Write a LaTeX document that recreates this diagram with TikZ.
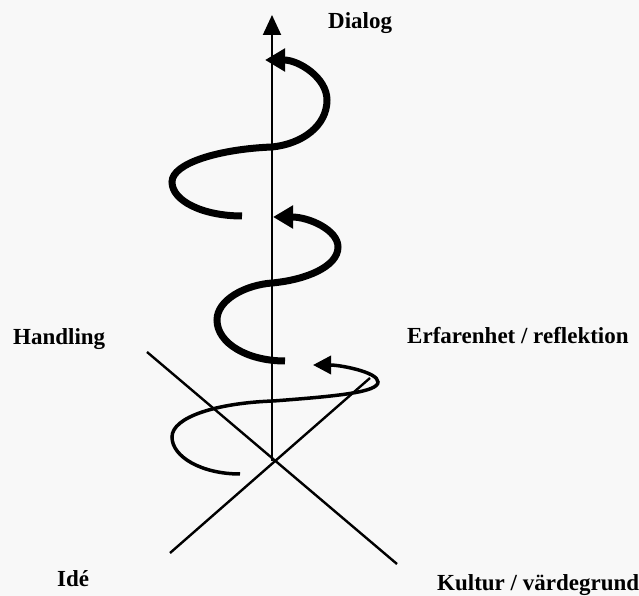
\documentclass[tikz,border=0pt]{standalone}
\usepackage{fontspec}
\setmainfont{Liberation Serif}
\usetikzlibrary{arrows.meta}
\definecolor{bgc}{RGB}{248,248,248}
\begin{document}
\begin{tikzpicture}[x=1pt,y=1pt,
  axisline/.style={line width=2pt, -{Triangle[length=20pt,width=18pt]}},
  diag/.style={line width=2.4pt},
  thickspiral/.style={line width=7pt, -{Triangle[length=20pt,width=22pt]}},
  thinspiral/.style={line width=3.5pt, -{Triangle[length=18pt,width=18pt]}},
  lbl/.style={anchor=base west, inner sep=0pt, font=\fontsize{23}{26}\selectfont\bfseries}]
\fill[bgc] (0,0) rectangle (639,596);
\useasboundingbox (0,0) rectangle (639,596);
% axes
\coordinate (C) at (272,135);
\coordinate (axtop) at (272,581);
\coordinate (d1a) at (147,244);
\coordinate (d1b) at (397,32);
\coordinate (d2a) at (170,43);
\coordinate (d2b) at (370,218);
\draw[diag] (d1a) -- (d1b);
\draw[diag] (d2a) -- (d2b);
\draw[axisline] (C) -- (axtop);
% spiral: bottom turn
\coordinate (b1) at (240,122);
\coordinate (b2) at (172,159);
\coordinate (b3) at (273,195);
\coordinate (b4) at (378,214);
\coordinate (b5) at (313,231);
\draw[thinspiral] (b1) .. controls (202,122) and (172,139) .. (b2)
  .. controls (172,179) and (217,193) .. (b3)
  .. controls (340,200) and (378,204) .. (b4)
  .. controls (378,224) and (340,231) .. (b5);
% middle turn
\coordinate (m1) at (285,235);
\coordinate (m2) at (217,276);
\coordinate (m3) at (272,313);
\coordinate (m4) at (338,349);
\coordinate (m5) at (273,379);
\draw[thickspiral] (m1) .. controls (247,235) and (217,253) .. (m2)
  .. controls (217,296) and (245,311) .. (m3)
  .. controls (305,316) and (338,329) .. (m4)
  .. controls (338,366) and (309,379) .. (m5);
% top turn
\coordinate (t1) at (242,380);
\coordinate (t2) at (172,414);
\coordinate (t3) at (272,449);
\coordinate (t4) at (327,496);
\coordinate (t5) at (265,536);
\draw[thickspiral] (t1) .. controls (203,380) and (172,395) .. (t2)
  .. controls (172,433) and (220,447) .. (t3)
  .. controls (302,452) and (327,470) .. (t4)
  .. controls (327,518) and (299,536) .. (t5);
% labels
\node[lbl] (dialog) at (328,567) {Dialog};
\node[lbl] (handling) at (13,251) {Handling};
\node[lbl] (erf) at (407,252) {Erfarenhet / reflektion};
\node[lbl] (ide) at (57,9) {Idé};
\node[lbl] (kultur) at (437,5) {Kultur / värdegrund};
\end{tikzpicture}
\end{document}
